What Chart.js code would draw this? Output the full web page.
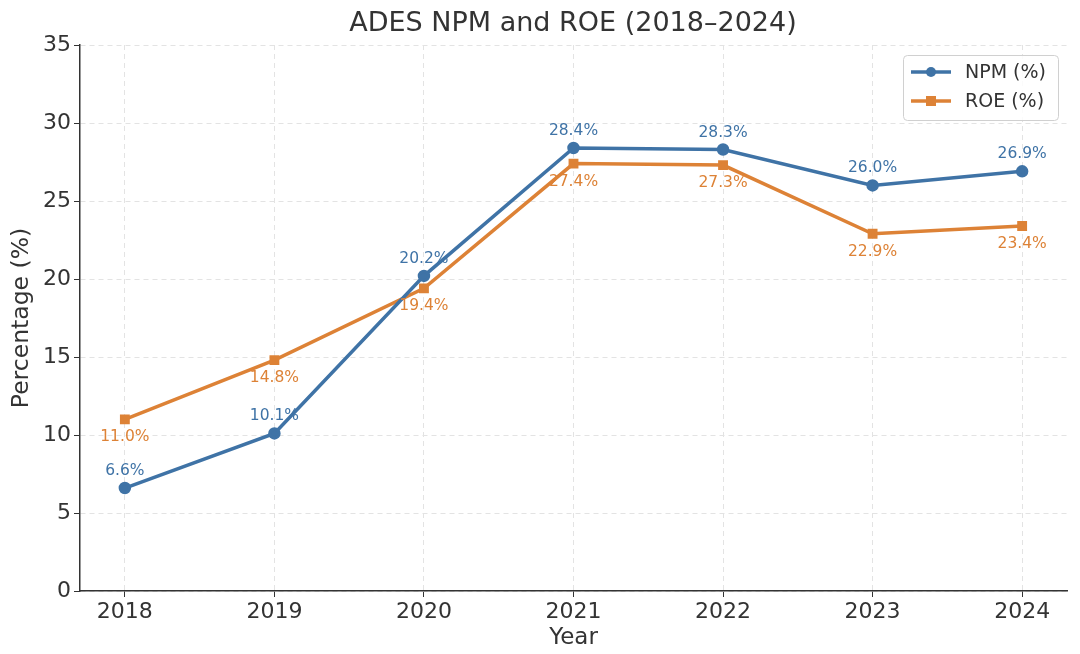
<!DOCTYPE html>
<html lang="en">
<head>
<meta charset="UTF-8">
<title>ADES NPM and ROE</title>
<script src="https://cdn.jsdelivr.net/npm/chart.js"></script>
<style>
  html, body { margin: 0; padding: 0; background: #fff; }
  #wrap { width: 1080px; height: 654px; }
</style>
</head>
<body>
<div id="wrap"><canvas id="chart" width="1080" height="654"></canvas></div>
<script>
// data
const years = [2018, 2019, 2020, 2021, 2022, 2023, 2024];
const npm = [6.6, 10.1, 20.2, 28.4, 28.3, 26.0, 26.9];
const roe = [11.0, 14.8, 19.4, 27.4, 27.3, 22.9, 23.4];
const yTicks = [0, 5, 10, 15, 20, 25, 30, 35];

const blue = "#3f73a6";
const orange = "#dd8236";
const font = "'DejaVu Sans', sans-serif";

// title, value labels and the boxed legend
const extras = {
  id: "extras",
  afterDatasetsDraw(chart) {
    const ctx = chart.ctx;
    ctx.save();
    ctx.textAlign = "center";
    ctx.textBaseline = "middle";
    ctx.font = "15.5px " + font;
    chart.data.datasets.forEach((ds, i) => {
      const meta = chart.getDatasetMeta(i);
      ctx.fillStyle = ds.borderColor;
      meta.data.forEach((pt, j) => {
        const dy = i === 0 ? -17 : 18;
        ctx.fillText(ds.data[j].y.toFixed(1) + "%", pt.x, pt.y + dy);
      });
    });

    ctx.fillStyle = "#333";
    ctx.font = "27px " + font;
    ctx.fillText("ADES NPM and ROE (2018\u20132024)", 573, 24);

    // legend
    const bx = 903, by = 55, bw = 155, bh = 65;
    ctx.fillStyle = "rgba(255,255,255,0.85)";
    ctx.strokeStyle = "#d0d0d0";
    ctx.lineWidth = 1;
    ctx.beginPath();
    ctx.roundRect(bx + 0.5, by + 0.5, bw, bh, 4);
    ctx.fill();
    ctx.stroke();
    chart.data.datasets.forEach((ds, i) => {
      const y = by + 17 + i * 29;
      ctx.strokeStyle = ds.borderColor;
      ctx.lineWidth = 3.5;
      ctx.beginPath();
      ctx.moveTo(bx + 8, y);
      ctx.lineTo(bx + 48, y);
      ctx.stroke();
      ctx.fillStyle = ds.borderColor;
      if (i === 0) {
        ctx.beginPath();
        ctx.arc(bx + 28, y, 5, 0, Math.PI * 2);
        ctx.fill();
      } else {
        ctx.fillRect(bx + 23, y - 5, 10, 10);
      }
      ctx.fillStyle = "#333";
      ctx.textAlign = "left";
      ctx.font = "19px " + font;
      ctx.fillText(ds.label, bx + 62, y + 1);
    });
    ctx.restore();
  }
};

new Chart(document.getElementById("chart"), {
  type: "line",
  data: {
    datasets: [
      {
        label: "NPM (%)",
        data: years.map((x, i) => ({ x, y: npm[i] })),
        borderColor: blue,
        backgroundColor: blue,
        borderWidth: 3.5,
        pointStyle: "circle",
        pointRadius: 4.5,
        pointHoverRadius: 4.5
      },
      {
        label: "ROE (%)",
        data: years.map((x, i) => ({ x, y: roe[i] })),
        borderColor: orange,
        backgroundColor: orange,
        borderWidth: 3.5,
        pointStyle: "rect",
        pointRadius: 4.5,
        pointHoverRadius: 4.5
      }
    ]
  },
  options: {
    responsive: false,
    animation: false,
    layout: { padding: { top: 45, right: 13, left: 0, bottom: 0 } },
    plugins: { legend: { display: false }, tooltip: { enabled: false } },
    scales: {
      x: {
        type: "linear",
        min: 2017.7,
        max: 2024.3,
        afterBuildTicks: s => { s.ticks = years.map(v => ({ value: v })); },
        afterFit: s => { s.height = 63; },
        ticks: { callback: v => String(v), color: "#333", font: { family: font, size: 22 }, padding: 2 },
        grid: { color: "#e3e3e3", tickColor: "#333", tickLength: 6, tickBorderDash: [] },
        border: { color: "#333", width: 1.5, dash: [5, 4] },
        title: { display: true, text: "Year", color: "#333", font: { family: font, size: 23 }, padding: { top: 0, bottom: 2 } }
      },
      y: {
        min: 0,
        max: 35,
        afterBuildTicks: s => { s.ticks = yTicks.map(v => ({ value: v })); },
        afterFit: s => { s.width = 80; },
        ticks: { color: "#333", font: { family: font, size: 22 }, padding: 3 },
        grid: { color: "#e3e3e3", tickColor: "#333", tickLength: 6, tickBorderDash: [] },
        border: { color: "#333", width: 1.5, dash: [5, 4] },
        title: { display: true, text: "Percentage (%)", color: "#333", font: { family: font, size: 23.5 }, padding: { top: 8, bottom: 2 } }
      }
    }
  },
  plugins: [extras]
});
</script>
</body>
</html>
